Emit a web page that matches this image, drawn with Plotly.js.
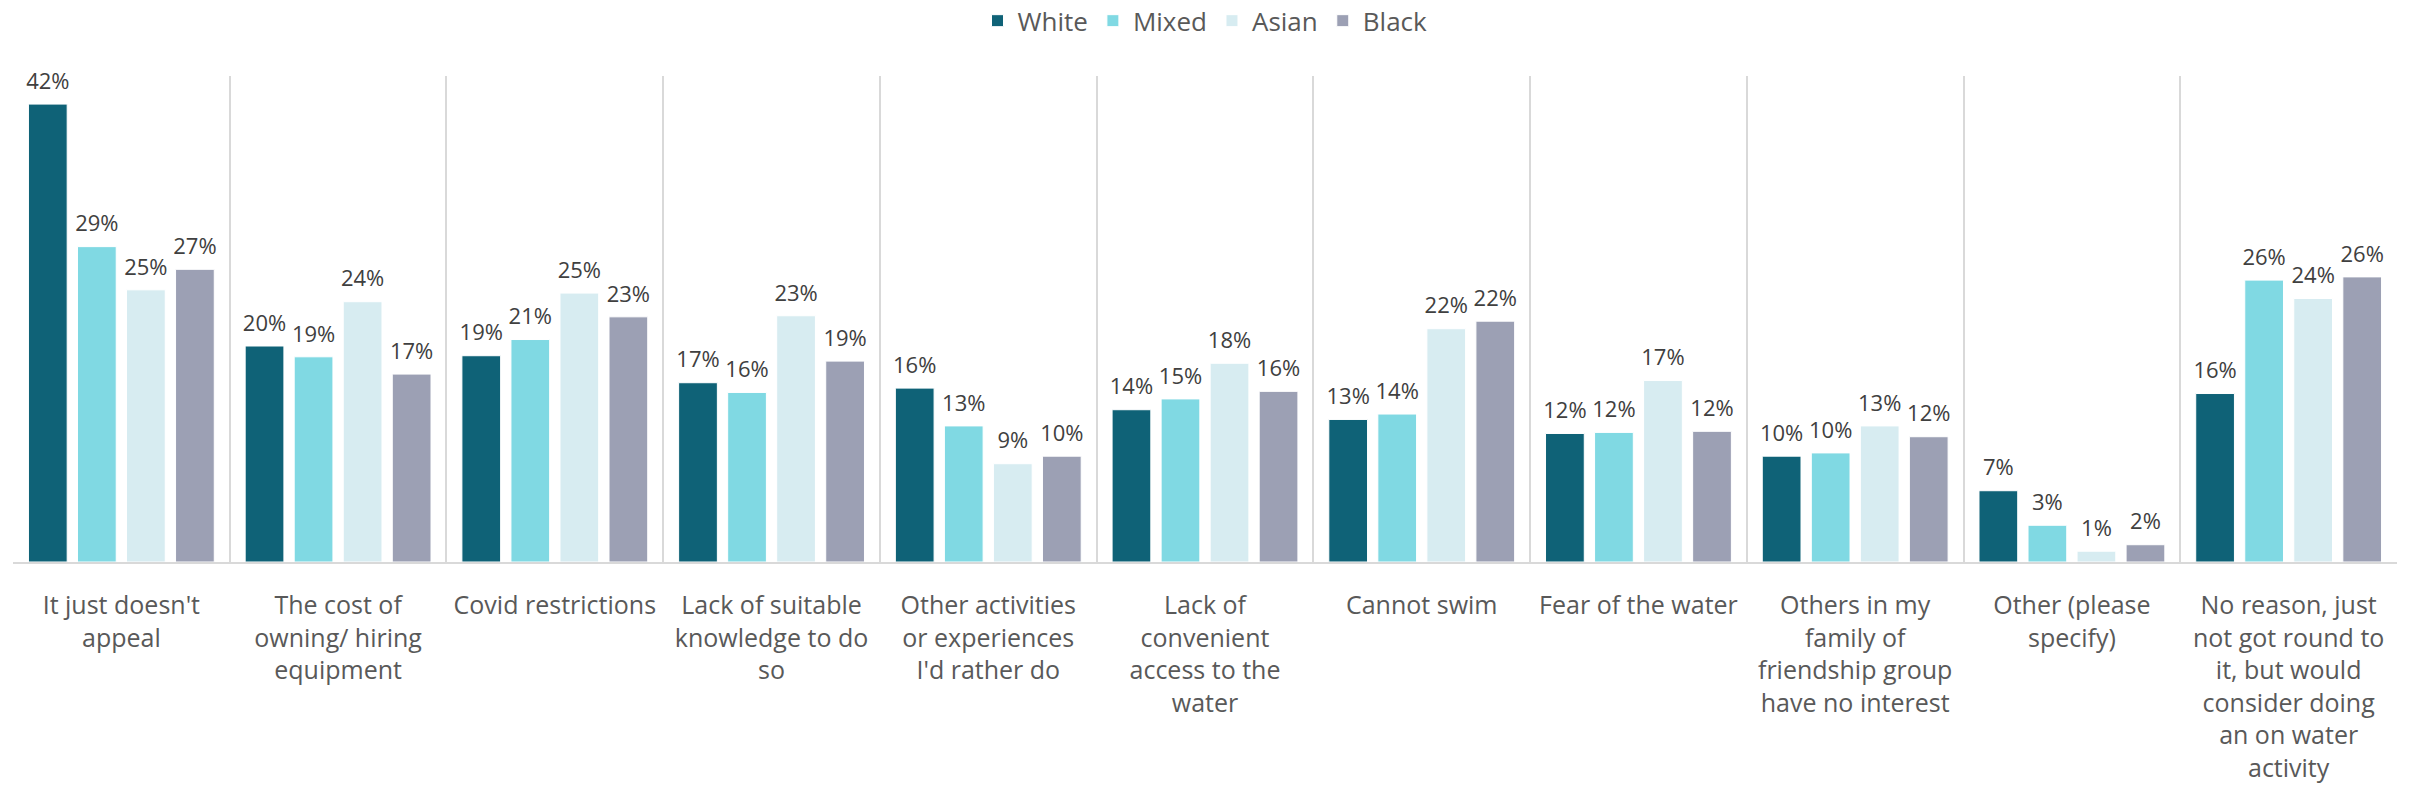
<!DOCTYPE html>
<html>
<head>
<meta charset="utf-8">
<script src="https://cdn.plot.ly/plotly-3.0.1.min.js"></script>
<style>html,body{margin:0;padding:0;background:#fff;}#chart{width:2415px;height:806px;}</style>
</head>
<body>
<div id="chart"></div>
<script>
const categories = [
  "It just doesn't<br>appeal",
  "The cost of<br>owning/ hiring<br>equipment",
  "Covid restrictions",
  "Lack of suitable<br>knowledge to do<br>so",
  "Other activities<br>or experiences<br>I'd rather do",
  "Lack of<br>convenient<br>access to the<br>water",
  "Cannot swim",
  "Fear of the water",
  "Others in my<br>family of<br>friendship group<br>have no interest",
  "Other (please<br>specify)",
  "No reason, just<br>not got round to<br>it, but would<br>consider doing<br>an on water<br>activity"
];
const seriesNames = ["White", "Mixed", "Asian", "Black"];
const white = [42.4, 20.0, 19.1, 16.6, 16.1, 14.1, 13.2, 11.9, 9.8, 6.6, 15.6];
const mixed = [29.2, 19.0, 20.6, 15.7, 12.6, 15.1, 13.7, 12.0, 10.1, 3.4, 26.1];
const asian = [25.2, 24.1, 24.9, 22.8, 9.1, 18.4, 21.6, 16.8, 12.6, 1.0, 24.4];
const black = [27.1, 17.4, 22.7, 18.6, 9.8, 15.8, 22.3, 12.1, 11.6, 1.6, 26.4];
const seriesValues = [white, mixed, asian, black];
const colors = ["#0f6277", "#80d9e3", "#d7ecf1", "#9ca0b4"];

const FONT = "Open Sans, Noto Sans, sans-serif";
const BARGAP = 0.095;

const barTraces = seriesNames.map((name, i) => ({
  type: "bar",
  name: name,
  x: categories,
  y: seriesValues[i],
  marker: {color: colors[i], line: {color: "#ffffff", width: 1}},
  hoverinfo: "skip"
}));

const labelTraces = seriesNames.map((name, i) => ({
  type: "scatter",
  mode: "markers+text",
  name: name + " labels",
  showlegend: false,
  x: categories,
  y: seriesValues[i],
  texttemplate: "%{y:.0f}%",
  textposition: "top center",
  cliponaxis: false,
  marker: {size: 14, opacity: 0, color: colors[i]},
  textfont: {family: FONT, size: 22, color: "#404040"},
  hoverinfo: "skip"
}));

const layout = {
  width: 2415,
  height: 806,
  margin: {l: 13, r: 18, t: 76, b: 244, pad: 0, autoexpand: false},
  paper_bgcolor: "#ffffff",
  plot_bgcolor: "#ffffff",
  barmode: "group",
  bargap: BARGAP,
  bargroupgap: 0.21,
  scattermode: "group",
  scattergap: BARGAP,
  font: {family: FONT, color: "#595959"},
  showlegend: true,
  legend: {
    orientation: "h",
    x: 0.5, xanchor: "center",
    y: 1.162, yanchor: "top",
    font: {family: FONT, size: 26, color: "#595959"},
    itemwidth: 30,
    traceorder: "normal"
  },
  xaxis: {
    type: "category",
    tickson: "boundaries",
    showgrid: true,
    gridcolor: "#d9d9d9",
    gridwidth: 2,
    ticks: "",
    showline: true,
    linecolor: "#d9d9d9",
    linewidth: 2,
    tickangle: 0,
    ticklabelstandoff: 20,
    tickfont: {family: FONT, size: 25, color: "#595959"},
    zeroline: false,
    automargin: false,
    fixedrange: true
  },
  yaxis: {
    range: [0, 45],
    showgrid: false,
    showticklabels: false,
    ticks: "",
    zeroline: false,
    showline: false,
    fixedrange: true
  }
};

Plotly.newPlot("chart", barTraces.concat(labelTraces), layout, {displayModeBar: false, staticPlot: true});
</script>
</body>
</html>
